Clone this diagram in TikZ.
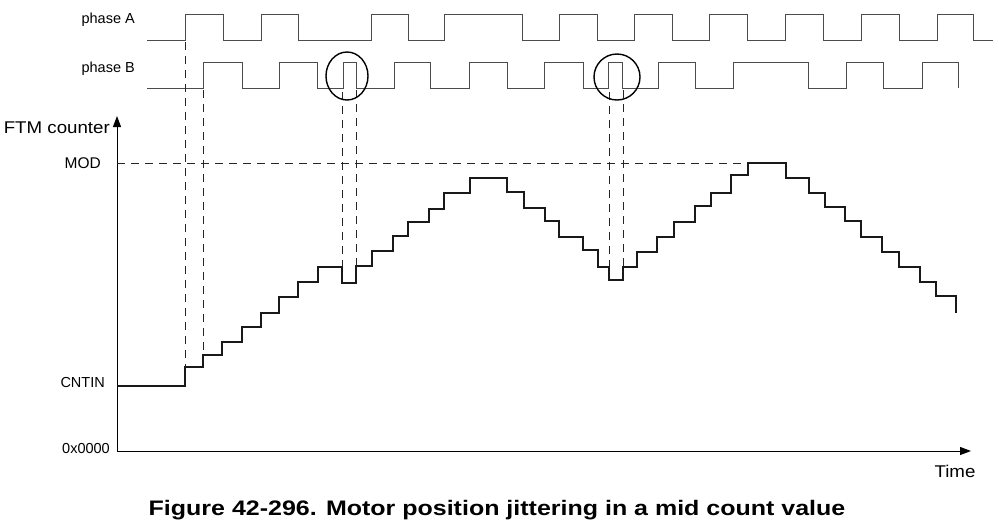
\documentclass[tikz,border=0pt]{standalone}
\usepackage{fontspec}
\setmainfont{Liberation Sans}
\usetikzlibrary{arrows.meta,shapes.geometric}
\begin{document}
\begin{tikzpicture}[x=1pt,y=-1pt,
  wave/.style={line width=1pt,draw=black!70},
  stair/.style={line width=1.1pt,draw=black!90},
  guide/.style={line width=0.9pt,draw=black!85,dash pattern=on 8pt off 6pt},
  axis/.style={line width=1pt,draw=black,-{Triangle[length=11pt,width=8pt]}},
  lbl/.style={inner sep=0pt,font=\fontsize{14.5}{16}\selectfont},
  big/.style={inner sep=0pt,font=\fontsize{17}{19}\selectfont},
  jit/.style={line width=1.4pt,draw=black}]
\useasboundingbox (0,0) rectangle (999,528);

% axes
\coordinate (O) at (117,451);
\coordinate (ytop) at (117,116);
\coordinate (xend) at (971,451);
\draw[axis] (O) -- (ytop);
\draw[axis] (O) -- (xend);

% labels
\node[lbl,anchor=east] (pa) at (135,20) {phase A};
\node[lbl,anchor=east] (pb) at (135,69) {phase B};
\node[big,anchor=east] (ftm) at (110,128) {\scalebox{1.1}[1]{FTM counter}};
\node[lbl,anchor=east,font=\fontsize{15.5}{17}\selectfont] (mod) at (101,163) {MOD};
\node[lbl,anchor=east] (cntin) at (105,383) {CNTIN};
\node[lbl,anchor=east] (zero) at (110,449) {0x0000};
\node[big] (time) at (955,471) {\scalebox{1.1}[1]{Time}};
\node[inner sep=0pt,font=\bfseries\fontsize{21}{23}\selectfont] (cap) at (497,510) {\scalebox{1.19}[1]{Figure 42-296. Motor position jittering in a mid count value}};

% MOD guide
\coordinate (modL) at (117,163);
\coordinate (modR) at (746,163);
\draw[guide] (modL) -- (modR);

% phase A
\draw[wave] (147,40) -| (185,14) -| (223,40) -| (261,14) -| (298,40) -| (371,14) -| (408,40) -| (444,14) -| (522,40) -| (559,14) -| (597,40) -| (634,14) -| (672,40) -| (709,14) -| (747,40) -| (785,14) -| (823,40) -| (861,14) -| (899,40) -| (937,14) -| (973,40) -- (993,40);

% phase B
\draw[wave] (147,88) -| (203,62) -| (242,88) -| (279,62) -| (317,88) -| (343,62) -| (356,88) -| (394,62) -| (430,88) -| (469,62) -| (507,88) -| (544,62) -| (583,88) -| (608,62) -| (622,88) -| (658,62) -| (695,88) -| (733,62) -| (808,88) -| (846,62) -| (883,88) -| (922,62) -| (958,88);

% counter staircase
\draw[stair] (117,386) -| (185,367) -| (203,355) -| (222,342) -| (242,327) -| (261,313) -| (279,297) -| (298,282) -| (318,267) -| (342,283) -| (356,266) -| (372,251) -| (393,236) -| (408,222) -| (429,209) -| (444,193) -| (470,178) -| (507,192) -| (524,208) -| (545,221) -| (559,237) -| (583,250) -| (598,267) -| (609,280) -| (623,267) -| (637,252) -| (657,237) -| (674,222) -| (695,206) -| (711,193) -| (731,175) -| (748,163) -| (786,178) -| (809,193) -| (825,207) -| (845,221) -| (861,237) -| (882,252) -| (899,267) -| (920,282) -| (936,296) -| (956,313);

% vertical guides
\coordinate (g1a) at (185,42);  \coordinate (g1b) at (185,367);
\coordinate (g2a) at (203,90);  \coordinate (g2b) at (203,355);
\coordinate (g3a) at (342,92);  \coordinate (g3b) at (342,267);
\coordinate (g4a) at (356,90);  \coordinate (g4b) at (356,266);
\coordinate (g5a) at (609,92);  \coordinate (g5b) at (609,267);
\coordinate (g6a) at (623,90);  \coordinate (g6b) at (623,267);
\draw[guide] (g1a) -- (g1b);
\draw[guide] (g2a) -- (g2b);
\draw[guide] (g3a) -- (g3b);
\draw[guide] (g4a) -- (g4b);
\draw[guide] (g5a) -- (g5b);
\draw[guide] (g6a) -- (g6b);

% jitter circles
\node[jit,ellipse,minimum width=42pt,minimum height=48pt,inner sep=0pt] (j1) at (347,76) {};
\node[jit,circle,minimum size=46pt,inner sep=0pt] (j2) at (617,77) {};
\end{tikzpicture}
\end{document}
